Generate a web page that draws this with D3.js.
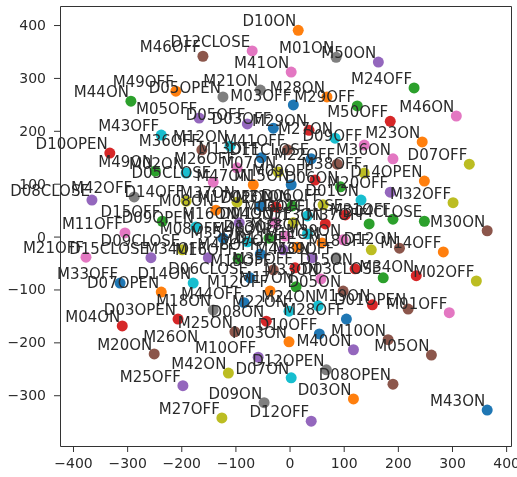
<!DOCTYPE html>
<html>
<head>
<meta charset="utf-8">
<script src="https://cdn.jsdelivr.net/npm/d3@7"></script>
<style>
  html, body { margin: 0; background: #fff; }
  svg { display: block; filter: blur(0.55px); }
  text { font-family: "DejaVu Sans", sans-serif; fill: #2a2a2a; }
  .tick line, .domain { stroke: #333; }
</style>
</head>
<body>
<div id="chart"></div>
<script>
// values, same order in all four lists
var names = ["M46OFF","D12CLOSE","M49OFF","M44ON","D05OPEN","M21ON","M03OFF","M28ON","M29OFF","M50OFF",
  "M46ON","M24OFF","M50ON","M01ON","D10ON","M41ON","M23ON","D07OFF","M36ON","D09OFF",
  "M29ON","M27ON","M05OFF","D05OFF","D03OFF","M43OFF","M36OFF","M12ON","D10OPEN","M49ON",
  "D08CLOSE","M42OFF","D15OFF","M11OFF","M21OFF","D15CLOSE","M33OFF","D07OPEN","M04ON","D03OPEN",
  "M20ON","M25ON","M10OFF","M42ON","D07ON","D12OPEN","D08OPEN","D03ON","M25OFF","D09ON",
  "M27OFF","D12OFF","M43ON","M05ON","M40ON","M03ON","D10OFF","M28OFF","M10ON","M01OFF",
  "D01OPEN","M19ON","M02OFF","M34ON","D03CLOSE","M14OFF","D12ON","M18OFF","M39ON","M30ON",
  "D04CLOSE","M31OFF","M37OFF","M32OFF","M20OFF","D14OPEN","M38OFF","D01ON","D02CLOSE","M22OFF",
  "D11CLOSE","M41OFF","M13OFF","M26OFF","M07ON","M02ON","D05CLOSE","M47ON","M15ON","M09OFF",
  "D06ON","D14OFF","M37ON","M08ON","M17OFF","D02ON","M31ON","D06OFF","M06OFF","M16ON",
  "D04ON","M19OFF","D13ON","D09OPEN","M08OFF","M35ON","M48ON","D13OFF","M38ON","M11ON",
  "D11OFF","D09CLOSE","M47OFF","M34OFF","M16OFF","M48OFF","M45ON","M39OFF","M35OFF","M15OFF",
  "D06CLOSE","D14ON","M33ON","M17ON","M12OFF","D05ON","M44OFF","M18ON","M22ON","M24ON",
  "D08ON","D15ON","M26ON"];
var xValues = [-160,-69,-210,-293,-123,-54,7,69,125,186,
  308,230,164,86,16,3,245,332,191,138,
  36,84,-167,-78,-30,-237,-162,-110,-332,-248,
  -365,-287,-235,-304,-376,-256,-313,-237,-309,-206,
  -250,-101,-58,-113,3,68,191,118,-197,-47,
  -125,40,365,262,118,-1,55,105,182,295,
  219,153,345,234,173,284,203,151,99,365,
  249,191,147,302,186,249,138,132,103,88,
  40,-4,-52,-97,-21,-191,-141,-67,3,47,
  94,-191,-97,-136,-54,-25,5,62,33,-93,
  -27,7,66,-173,-123,-78,-38,-8,33,60,
  14,-198,-12,-150,-95,-54,42,86,10,-30,
  -73,-178,58,12,-36,99,-84,-141,-1,53,
  -43,121,-165];
var yValues = [341,351,275,256,264,277,249,264,247,218,
  228,281,330,339,390,311,179,137,147,173,
  201,186,224,213,205,192,164,171,158,124,
  69,75,29,7,-39,-40,-88,-105,-169,-156,
  -222,-180,-228,-258,-267,-252,-279,-307,-282,-314,
  -343,-349,-328,-224,-214,-199,-184,-156,-195,-144,
  -137,-129,-84,-74,-78,-29,-22,-25,-6,11,
  29,33,24,64,84,105,120,69,41,137,
  147,164,149,130,122,120,103,98,98,107,
  94,67,65,50,58,56,58,60,39,26,
  26,26,24,18,-3,-10,-3,1,5,-12,
  -20,-25,-25,-40,-42,-33,-40,-40,-59,-63,
  -78,-88,-80,-95,-103,-103,-125,-139,-141,-131,
  -160,-61,-207];
// index into the colour cycle, -1 where the label has no visible dot
var colorIndex = [5,6,1,2,7,7,0,1,2,3,
  6,2,4,7,1,6,1,8,6,6,
  3,9,4,4,0,9,5,9,3,2,
  4,7,2,6,6,4,0,1,3,3,
  5,5,4,8,9,7,5,1,4,7,
  8,4,0,5,4,1,0,0,5,6,
  5,3,8,3,2,1,5,8,6,5,
  2,2,2,8,4,1,8,9,3,5,
  0,5,0,6,8,9,6,1,0,3,
  2,8,8,1,0,3,2,8,9,4,
  6,8,3,9,0,9,2,6,9,1,
  1,8,4,4,2,0,4,7,3,5,
  0,9,6,2,1,5,0,7,9,9,
  3,3,-1];
var xTicks = [-400,-300,-200,-100,0,100,200,300,400];
var yTicks = [-300,-200,-100,0,100,200,300,400];

var width = 517, height = 477;
var left = 60, right = 511, top_ = 6, bottom = 446;

var points = names.map(function(n, i) {
  return { name: n, x: xValues[i], y: yValues[i], c: colorIndex[i] };
});

var x = d3.scaleLinear().domain([-424, 409]).range([left, right]);
var y = d3.scaleLinear().domain([-396, 436]).range([bottom, top_]);
var color = d3.scaleOrdinal().domain(d3.range(10)).range(d3.schemeCategory10);

var svg = d3.select("#chart").append("svg")
  .attr("width", width)
  .attr("height", height);

svg.append("g").selectAll("circle")
  .data(points.filter(function(d) { return d.c >= 0; }))
  .enter().append("circle")
  .attr("cx", function(d) { return x(d.x); })
  .attr("cy", function(d) { return y(d.y); })
  .attr("r", 5.5)
  .attr("fill", function(d) { return color(d.c); });

svg.append("g").selectAll("text")
  .data(points)
  .enter().append("text")
  .attr("x", function(d) { return x(d.x) - 2; })
  .attr("y", function(d) { return y(d.y) - 4; })
  .attr("text-anchor", "end")
  .style("font-size", "15px")
  .text(function(d) { return d.name; });

var xAxis = d3.axisBottom(x).tickValues(xTicks).tickSize(6).tickPadding(6).tickSizeOuter(0);
var yAxis = d3.axisLeft(y).tickValues(yTicks).tickSize(6).tickPadding(8).tickSizeOuter(0);

svg.append("g").attr("transform", "translate(0," + bottom + ")").call(xAxis);
svg.append("g").attr("transform", "translate(" + left + ",0)").call(yAxis);
svg.selectAll(".tick text").style("font-size", "14px").attr("fill", null);

// top and right spines
svg.append("g").attr("transform", "translate(0," + top_ + ")")
  .call(d3.axisTop(x).tickValues([]).tickSizeOuter(0));
svg.append("g").attr("transform", "translate(" + right + ",0)")
  .call(d3.axisRight(y).tickValues([]).tickSizeOuter(0));
</script>
</body>
</html>
